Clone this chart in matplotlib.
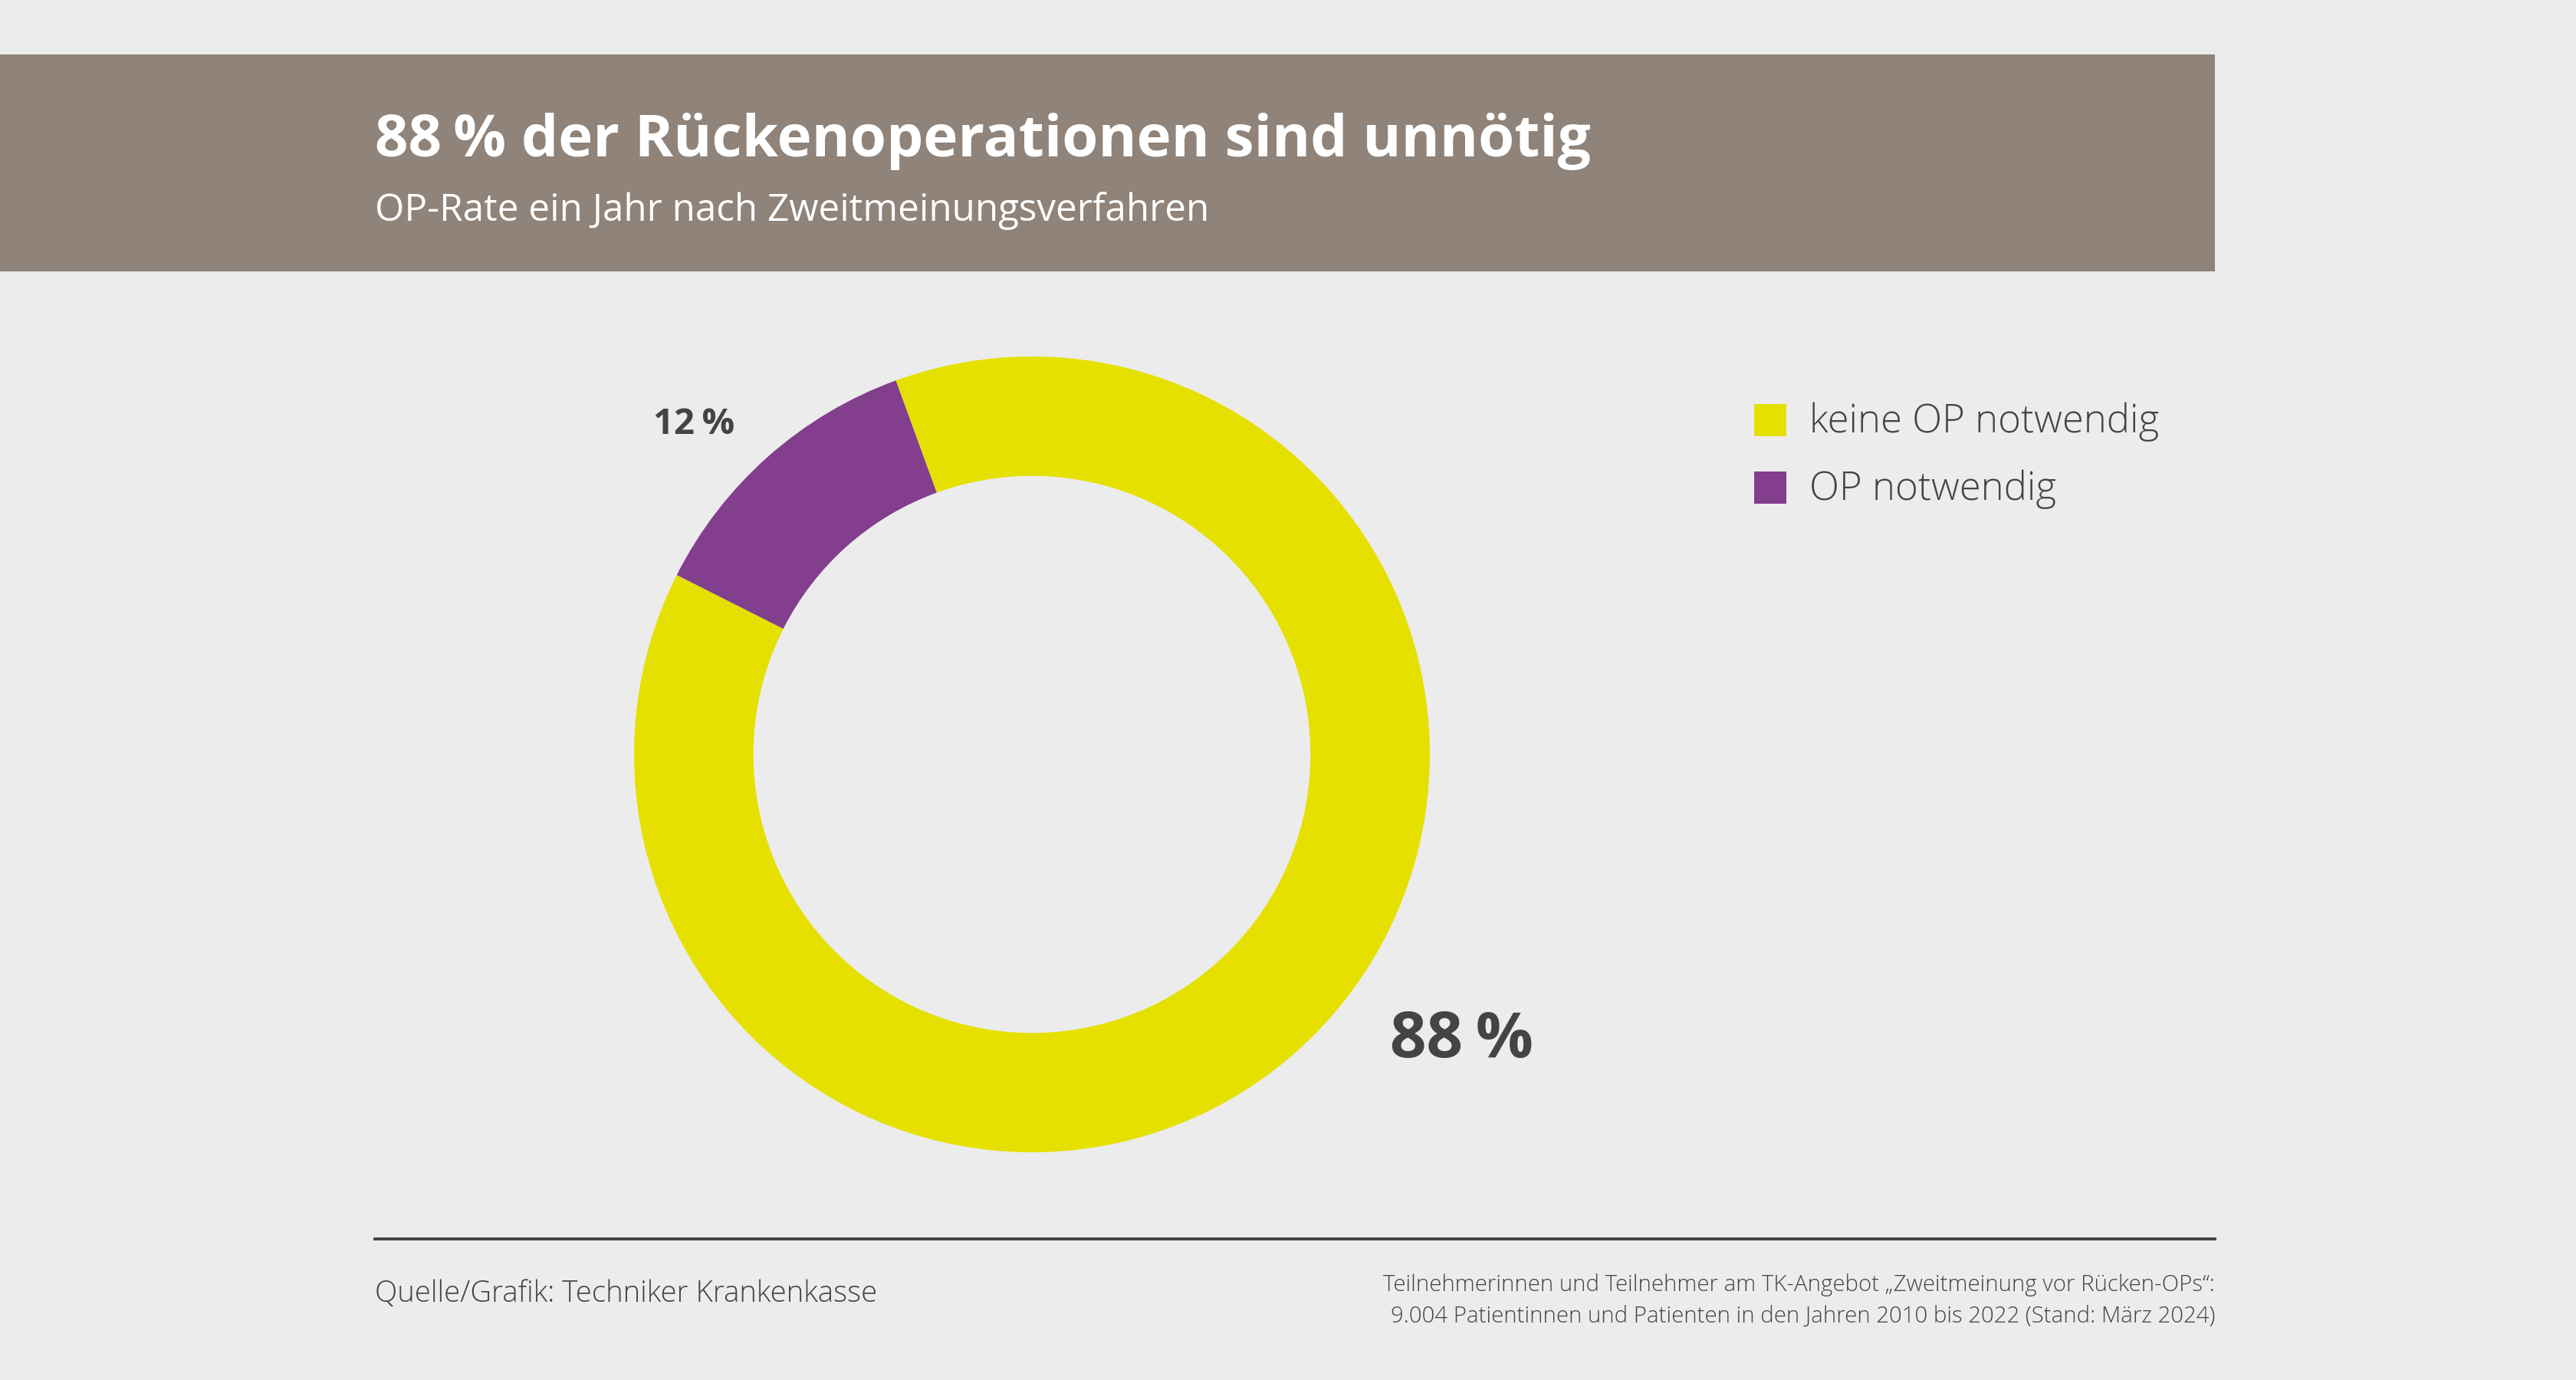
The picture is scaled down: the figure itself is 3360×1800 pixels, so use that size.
import matplotlib.pyplot as plt
from matplotlib.patches import Rectangle

title = "88\u2009% der Rückenoperationen sind unnötig"
subtitle = "OP-Rate ein Jahr nach Zweitmeinungsverfahren"
categories = ["keine OP notwendig", "OP notwendig"]
shares = [88, 12]
share_labels = ["88\u2009%", "12\u2009%"]
colors = ["#e6e000", "#833e8e"]
source = "Quelle/Grafik: Techniker Krankenkasse"
note = ("Teilnehmerinnen und Teilnehmer am TK-Angebot \u201eZweitmeinung vor Rücken-OPs\u201c:\n"
        "9.004 Patientinnen und Patienten in den Jahren 2010 bis 2022 (Stand: März 2024)")

W, H = 3360, 1800
BG = "#ececec"
DARK = "#444444"
plt.rcParams['font.family'] = ['Open Sans', 'DejaVu Sans']


def fx(x):
    return x / W


def fy(y):
    return 1 - y / H


def main():
    fig = plt.figure(figsize=(W / 200, H / 200), dpi=200, facecolor=BG)

    # header band
    fig.patches.append(Rectangle((0, fy(354)), fx(2889), (354 - 71) / H,
                                 transform=fig.transFigure, facecolor="#8f837a",
                                 edgecolor="none", zorder=0))
    fig.text(fx(489), fy(204), title, color="white", fontsize=27.5,
             fontweight="bold", va="baseline", ha="left")
    fig.text(fx(489), fy(288), subtitle, color="white", fontsize=17.8,
             va="baseline", ha="left")

    # donut
    cx, cy, r = 1346, 984, 519
    ax = fig.add_axes([fx(cx - r), fy(cy + r), 2 * r / W, 2 * r / H])
    ax.pie(shares, colors=colors, startangle=153.2, counterclock=True,
           radius=1, wedgeprops=dict(width=0.3, edgecolor="none"))
    ax.set_xlim(-1, 1)
    ax.set_ylim(-1, 1)
    ax.set_aspect("equal")
    ax.axis("off")

    ax.text(1.08, -0.72, share_labels[0], fontsize=30, fontweight="bold",
            color=DARK, ha="center", va="center")
    ax.text(-0.85, 0.83, share_labels[1], fontsize=17, fontweight="bold",
            color=DARK, ha="center", va="center")

    # legend
    for i, (cat, col) in enumerate(zip(categories, colors)):
        yc = 548 + i * 88
        fig.patches.append(Rectangle((fx(2288), fy(yc + 21)), 42 / W, 42 / H,
                                     transform=fig.transFigure, facecolor=col,
                                     edgecolor="none"))
        fig.text(fx(2360), fy(yc + 2), cat, fontsize=18.3, fontweight="light",
                 color=DARK, ha="left", va="center")

    # footer
    fig.add_artist(plt.Line2D([fx(489), fx(2889)], [fy(1616), fy(1616)],
                              transform=fig.transFigure, color=DARK, lw=1.4))
    fig.text(fx(489), fy(1688), source, fontsize=13.8, fontweight="light",
             color=DARK, ha="left", va="center")
    fig.text(fx(2889), fy(1696), note, fontsize=10.6, fontweight="light",
             color=DARK, ha="right", va="center", linespacing=1.5)

    fig.savefig("out.png", dpi=200, facecolor=BG)


if __name__ == "__main__":
    main()
